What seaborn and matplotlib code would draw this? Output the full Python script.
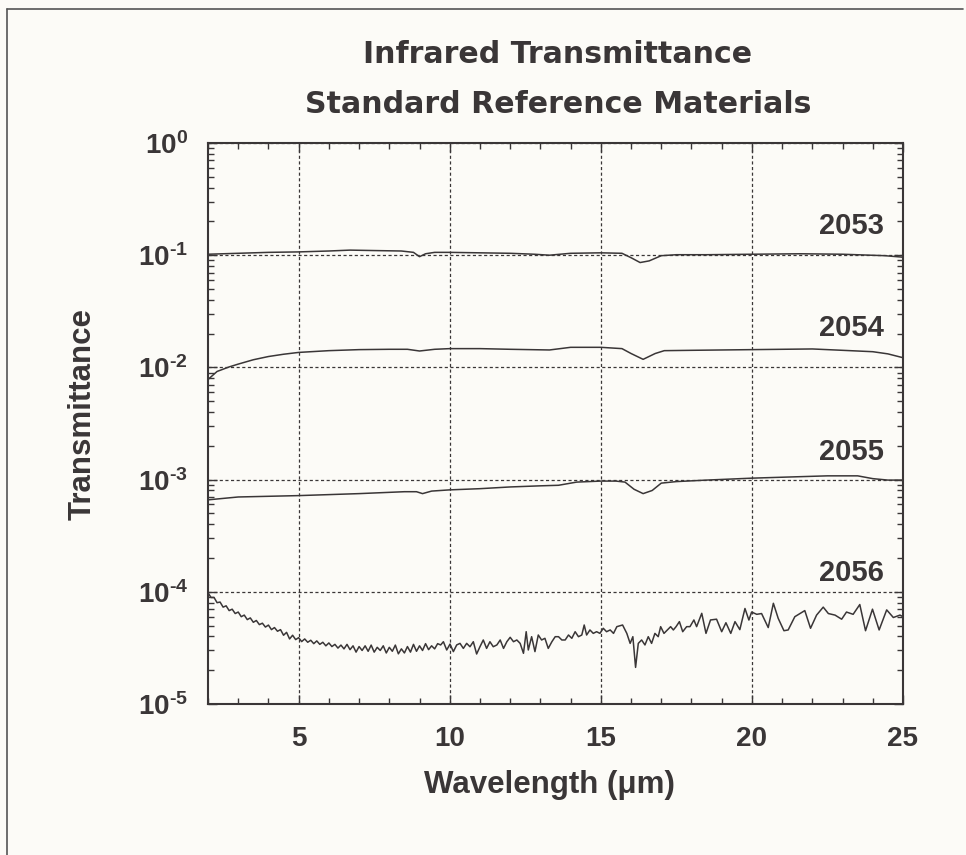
"""Infrared transmittance of the neutral-density SRMs 2053-2056."""
import matplotlib

matplotlib.use("Agg")
import matplotlib.pyplot as plt
import numpy as np
import pandas as pd
import seaborn as sns
from matplotlib.lines import Line2D
from matplotlib.ticker import FuncFormatter, LogLocator, MultipleLocator

# --- data -------------------------------------------------------------------
srm_names = ["2053", "2054", "2055", "2056"]

wl_2053 = [2.0, 3.0, 4.0, 5.0, 6.0, 6.7, 7.5, 8.4, 8.8, 9.0, 9.2, 9.5, 10.0, 11.0,
           12.0, 12.8, 13.3, 14.0, 15.0, 15.7, 16.0, 16.3, 16.6, 17.0, 17.5, 18.5,
           20.0, 21.6, 23.0, 24.4, 25.0]
t_2053 = [0.102, 0.104, 0.106, 0.107, 0.109, 0.111, 0.110, 0.109, 0.106, 0.097,
          0.103, 0.106, 0.106, 0.105, 0.104, 0.102, 0.100, 0.104, 0.105, 0.104,
          0.095, 0.086, 0.089, 0.099, 0.101, 0.101, 0.102, 0.103, 0.102, 0.099, 0.096]

wl_2054 = [2.0, 2.3, 2.7, 3.0, 3.5, 4.0, 4.5, 5.0, 6.0, 7.0, 8.0, 8.6, 9.0, 9.5,
           10.0, 11.0, 12.0, 13.3, 14.0, 15.0, 15.7, 16.0, 16.4, 16.8, 17.1, 18.0,
           19.0, 20.0, 22.0, 23.0, 24.0, 24.5, 25.0]
t_2054 = [0.0078, 0.0092, 0.0101, 0.0107, 0.0117, 0.0125, 0.0131, 0.0136, 0.0141,
          0.0144, 0.0145, 0.0145, 0.0140, 0.0145, 0.0147, 0.0147, 0.0145, 0.0143,
          0.0151, 0.0151, 0.0147, 0.0133, 0.0118, 0.0133, 0.0141, 0.0142, 0.0143,
          0.0144, 0.0146, 0.0142, 0.0138, 0.0132, 0.0122]

wl_2055 = [2.0, 3.0, 5.0, 7.0, 8.5, 8.9, 9.1, 9.4, 10.0, 11.0, 12.0, 13.0, 13.6,
           14.2, 15.0, 15.5, 15.8, 16.1, 16.4, 16.7, 17.0, 17.5, 18.5, 20.0, 21.0,
           22.5, 23.5, 24.0, 24.5, 25.0]
t_2055 = [6.6e-4, 7.0e-4, 7.2e-4, 7.5e-4, 7.8e-4, 7.8e-4, 7.5e-4, 7.9e-4, 8.1e-4,
          8.3e-4, 8.6e-4, 8.8e-4, 8.9e-4, 9.5e-4, 9.7e-4, 9.7e-4, 9.5e-4, 8.2e-4,
          7.5e-4, 8.0e-4, 9.3e-4, 9.6e-4, 9.9e-4, 1.03e-3, 1.05e-3, 1.08e-3,
          1.08e-3, 1.02e-3, 0.99e-3, 0.99e-3]

wl_2056 = [
    2.0, 2.1, 2.2, 2.3, 2.4, 2.5, 2.6, 2.7, 2.8, 2.9,
    3.0, 3.1, 3.2, 3.3, 3.4, 3.5, 3.6, 3.7, 3.8, 3.9,
    4.0, 4.1, 4.2, 4.3, 4.4, 4.5, 4.6, 4.7, 4.8, 4.9,
    5.0, 5.1, 5.2, 5.3, 5.4, 5.5, 5.6, 5.7, 5.8, 5.9,
    6.0, 6.1, 6.2, 6.3, 6.4, 6.5, 6.6, 6.7, 6.8, 6.9,
    7.0, 7.1, 7.2, 7.3, 7.4, 7.5, 7.6, 7.7, 7.8, 7.9,
    8.0, 8.1, 8.2, 8.3, 8.4, 8.5, 8.6, 8.7, 8.8, 8.9,
    9.0, 9.1, 9.2, 9.3, 9.4, 9.5, 9.6,
    9.70, 9.79, 9.90, 10.01, 10.12, 10.23, 10.34, 10.45, 10.56, 10.67,
    10.78, 10.89, 11.00, 11.11, 11.22, 11.33, 11.44, 11.56, 11.67, 11.78,
    11.89, 12.00, 12.11, 12.22, 12.33, 12.44, 12.53, 12.60, 12.71, 12.82,
    12.93, 13.04, 13.15, 13.26, 13.38, 13.49, 13.60, 13.71, 13.82, 13.93,
    14.04, 14.15, 14.26, 14.37, 14.45, 14.53, 14.64, 14.75, 14.86, 14.97,
    15.08, 15.19, 15.31, 15.42, 15.53, 15.72, 15.86, 15.97, 16.06, 16.15,
    16.24, 16.35, 16.46, 16.57, 16.68, 16.79, 16.90, 16.98, 17.09, 17.20,
    17.31, 17.40, 17.49, 17.60, 17.71, 17.84, 17.95,
    18.08, 18.17, 18.34, 18.48, 18.63, 18.83, 19.00, 19.14, 19.30, 19.44,
    19.60, 19.77, 19.90, 19.99, 20.16, 20.32, 20.54, 20.71, 20.87, 21.06,
    21.20, 21.42, 21.75, 21.94, 22.14, 22.36, 22.53, 22.75, 22.97, 23.13,
    23.35, 23.57, 23.76, 23.99, 24.21, 24.46, 24.68, 24.90, 25.00,
]
# in units of 1e-5
t_2056_e5 = [
    9.8, 8.9, 8.9, 8.0, 8.1, 7.3, 7.5, 6.8, 7.0, 6.4,
    6.6, 6.0, 6.2, 5.65, 5.85, 5.35, 5.55, 5.1, 5.25, 4.85,
    5.05, 4.6, 4.8, 4.45, 4.6, 4.1, 4.35, 3.8, 4.1, 3.75,
    3.9, 3.6, 3.8, 3.55, 3.7, 3.45, 3.65, 3.4, 3.55, 3.3,
    3.5, 3.25, 3.4, 3.15, 3.35, 3.1, 3.4, 3.05, 3.3, 2.9,
    3.25, 3.0, 3.3, 2.95, 3.35, 2.9, 3.2, 3.0, 3.3, 2.85,
    3.2, 2.95, 3.35, 2.8, 3.1, 2.85, 3.25, 2.9, 3.4, 2.95,
    3.3, 3.0, 3.45, 3.05, 3.3, 3.1, 3.45,
    3.36, 3.59, 3.03, 3.42, 2.93, 3.36, 3.47, 3.13, 3.47, 3.24,
    3.59, 2.79, 3.24, 3.72, 3.13, 3.59, 3.24, 3.36, 3.72, 3.13,
    3.59, 3.93, 3.59, 3.72, 3.47, 2.83, 4.41, 3.03, 3.98, 2.93,
    4.12, 3.72, 3.85, 3.13, 3.59, 3.98, 3.98, 3.72, 3.72, 4.12,
    3.85, 4.41, 3.98, 4.12, 5.06, 4.12, 4.57, 4.26, 4.41, 4.26,
    4.73, 4.41, 4.57, 4.26, 4.89, 5.06, 4.26, 3.47, 3.98, 2.12,
    3.47, 3.72, 3.36, 3.98, 3.47, 4.26, 3.98, 4.89, 4.26, 4.57,
    4.89, 4.57, 4.89, 5.42, 4.41, 4.89, 4.89,
    5.61, 4.89, 6.43, 4.26, 5.61, 5.7, 4.41, 5.3, 4.26, 5.42,
    4.6, 7.1, 5.6, 6.6, 6.3, 6.4, 4.8, 7.9, 5.8, 4.5,
    4.57, 6.0, 6.8, 4.73, 6.2, 7.3, 6.4, 6.2, 5.7, 6.6,
    6.3, 7.7, 4.5, 7.0, 4.57, 6.9, 5.9, 6.2, 6.0,
]
t_2056 = [v * 1e-5 for v in t_2056_e5]

# where the SRM number labels sit (data coordinates)
label_x = 24.37
label_y = [0.182, 0.0225, 1.76e-3, 1.47e-4]

x_major = [5, 10, 15, 20, 25]

INK = "#3a3637"
BG = "#fcfbf7"

sns.set_theme(style="ticks")
plt.rcParams["font.family"] = ["Liberation Sans", "DejaVu Sans"]
plt.rcParams["font.weight"] = "bold"
plt.rcParams["mathtext.fontset"] = "custom"
plt.rcParams["mathtext.rm"] = "Liberation Sans:bold"
plt.rcParams["mathtext.it"] = "Liberation Sans:bold"
plt.rcParams["mathtext.bf"] = "Liberation Sans:bold"
plt.rcParams["text.color"] = INK


def decade_label(value, _pos):
    # plain hyphen in the exponent, like the original plot
    exp = int(round(np.log10(value)))
    return rf"$10^{{\text{{{exp}}}}}$"


def build_frame() -> pd.DataFrame:
    parts = []
    for name, wl, t in zip(srm_names, [wl_2053, wl_2054, wl_2055, wl_2056],
                           [t_2053, t_2054, t_2055, t_2056]):
        parts.append(pd.DataFrame({"wavelength": wl, "transmittance": t, "srm": name}))
    return pd.concat(parts, ignore_index=True)


df = build_frame()

fig = plt.figure(figsize=(9.66, 8.55), dpi=100, facecolor=BG)
ax = fig.add_axes([208 / 966, 1 - 704 / 855, 695 / 966, 561 / 855])
ax.set_facecolor(BG)

sns.lineplot(data=df, x="wavelength", y="transmittance", hue="srm",
             palette={n: INK for n in srm_names}, estimator=None, sort=False,
             legend=False, linewidth=1.1, ax=ax)

ax.set_yscale("log")
ax.set_xlim(2, 25)
ax.set_ylim(1e-5, 1)
ax.set_xlabel("")
ax.set_ylabel("")

ax.set_xticks(x_major)
ax.xaxis.set_minor_locator(MultipleLocator(1))
ax.yaxis.set_major_locator(LogLocator(base=10, numticks=10))
ax.yaxis.set_minor_locator(LogLocator(base=10, subs=np.arange(2, 10), numticks=10))
ax.yaxis.set_major_formatter(FuncFormatter(decade_label))
ax.yaxis.set_minor_formatter(FuncFormatter(lambda v, _: ""))

ax.tick_params(which="both", direction="in", top=True, right=True, color=INK,
               width=1.0, labelcolor=INK, labelsize=20)
ax.tick_params(which="major", length=6.5)
ax.tick_params(which="minor", length=4)
ax.tick_params(axis="x", pad=16)
ax.tick_params(axis="y", pad=14.4)

ax.grid(True, which="major", linestyle=(0, (2.5, 2.0)), color=INK, linewidth=0.9)
for spine in ax.spines.values():
    spine.set_linewidth(1.5)
    spine.set_color(INK)

for name, y in zip(srm_names, label_y):
    ax.text(label_x, y, name, ha="right", va="center", fontsize=21, color=INK)

fig.text(558 / 966, 1 - 63 / 855, "Infrared Transmittance", ha="center", va="baseline",
         fontsize=21.6, family="DejaVu Sans", weight="bold", color=INK)
fig.text(558 / 966, 1 - 113 / 855, "Standard Reference Materials", ha="center",
         va="baseline", fontsize=21.6, family="DejaVu Sans", weight="bold", color=INK)
fig.text(549 / 966, 1 - 793 / 855, "Wavelength (μm)", ha="center", va="baseline",
         fontsize=22.5, color=INK)
fig.text(83 / 966, 1 - 414 / 855, "Transmittance", rotation=90, ha="center",
         va="center", fontsize=22.5, color=INK)

# page frame (top and left edges)
fig.add_artist(Line2D([7 / 966, 7 / 966], [0, 1 - 9 / 855], transform=fig.transFigure,
                      color="#555555", linewidth=1.2))
fig.add_artist(Line2D([7 / 966, 963 / 966], [1 - 9 / 855, 1 - 9 / 855],
                      transform=fig.transFigure, color="#555555", linewidth=1.2))

fig.savefig("out.png", dpi=100, facecolor=BG)
